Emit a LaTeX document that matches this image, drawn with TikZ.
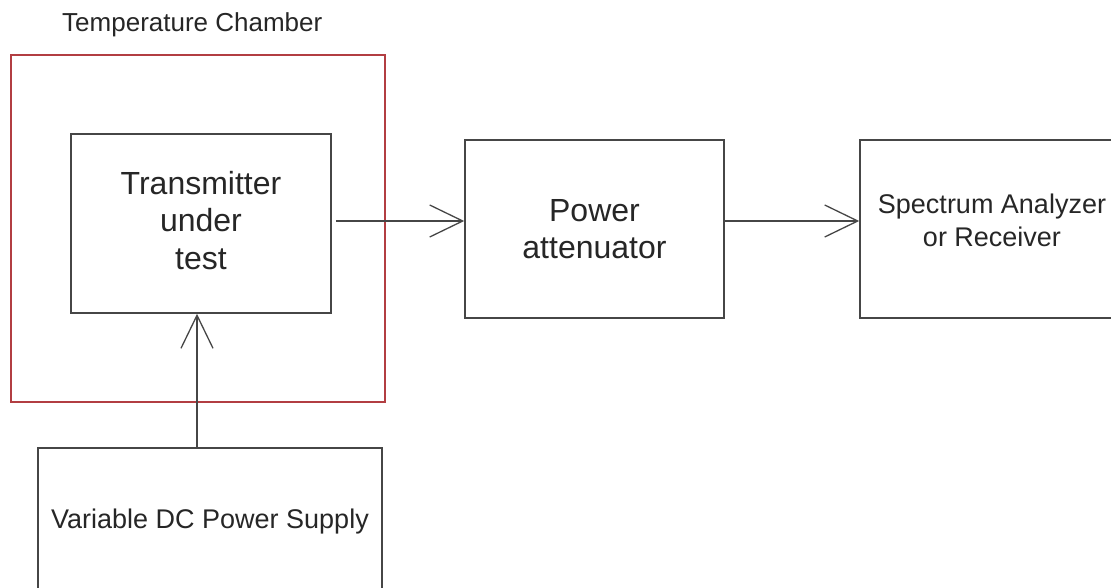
\documentclass[tikz,border=0pt]{standalone}
\usepackage{fontspec}
\setmainfont{Liberation Sans}
\usetikzlibrary{arrows.meta}
\definecolor{linegray}{RGB}{70,70,70}
\definecolor{chamberred}{RGB}{178,62,66}
\begin{document}
\begin{tikzpicture}[x=1pt,y=-1pt,
  blockbox/.style={draw=linegray,line width=1.6pt,rectangle,align=center,inner sep=0pt,text=black!85},
  bigtext/.style={font=\fontsize{32}{37.5}\selectfont},
  smalltext/.style={font=\fontsize{27}{33}\selectfont},
  conn/.style={draw=linegray,line width=1.4pt,-{Straight Barb[length=33pt,width=32pt,line width=1.3pt]}}]
\useasboundingbox (0,0) rectangle (1111,588);
\clip (0,0) rectangle (1111,588);
% chamber
\node[draw=chamberred,line width=2pt,rectangle,minimum width=374pt,minimum height=347pt,inner sep=0pt] (chamber) at (198,228.5) {};
\node[anchor=west,font=\fontsize{26}{30}\selectfont,text=black!85,inner sep=0pt] (chlabel) at (62,25) {Temperature Chamber};
% blocks
\node[blockbox,bigtext,minimum width=260pt,minimum height=179pt] (tx) at (201,223.5) {Transmitter\\under\\test\\[-30.5pt]};
\node[blockbox,bigtext,minimum width=259pt,minimum height=178pt] (pa) at (594.5,229) {Power\\attenuator};
\node[blockbox,smalltext,minimum width=264pt,minimum height=178pt] (sa) at (992,229) {Spectrum Analyzer\\or Receiver\\[-16pt]};
\node[blockbox,smalltext,minimum width=344pt,minimum height=148pt] (dc) at (210,522) {Variable DC Power Supply};
% connectors
\coordinate (a1s) at ([xshift=4pt]tx.east |- 0,221);
\coordinate (a1e) at (pa.west |- 0,221);
\coordinate (a2s) at (pa.east |- 0,221);
\coordinate (a2e) at (sa.west |- 0,221);
\coordinate (a3s) at ([xshift=-4pt]tx.south |- dc.north);
\coordinate (a3e) at ([xshift=-4pt]tx.south);
\draw[conn] (a1s) -- (a1e);
\draw[conn] (a2s) -- (a2e);
\draw[conn] (a3s) -- (a3e);
\end{tikzpicture}
\end{document}
